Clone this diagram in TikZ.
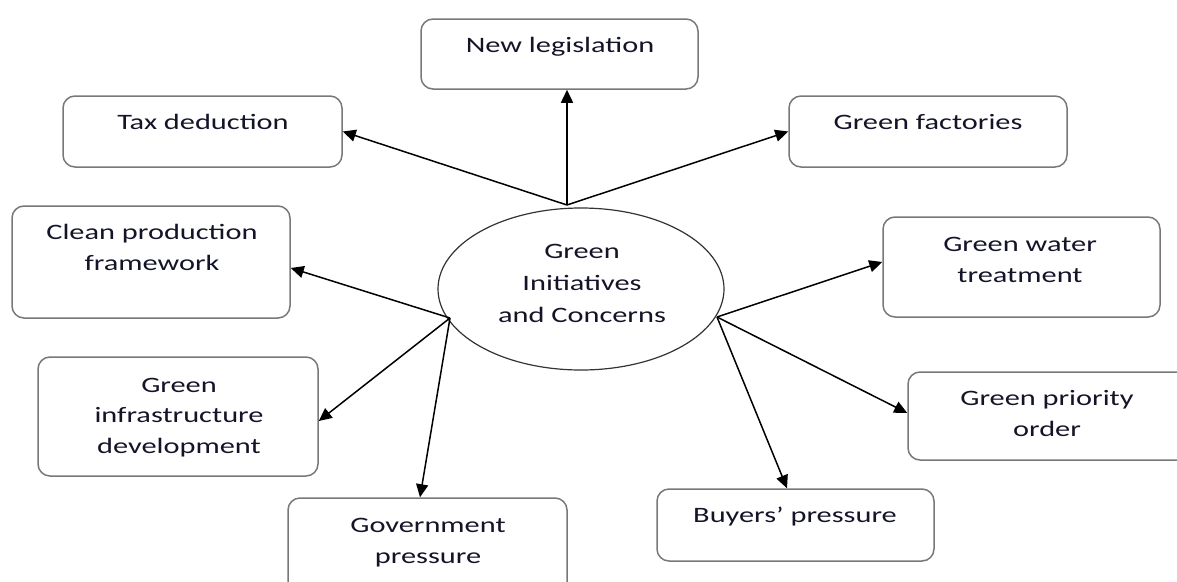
\documentclass[tikz,border=0pt]{standalone}
\usepackage{fontspec}
\setmainfont{Carlito}[FakeStretch=1.38]
\usetikzlibrary{arrows.meta,shapes.geometric}
\definecolor{boxgray}{RGB}{120,120,120}
\definecolor{txtcol}{RGB}{20,20,40}
\begin{document}
\begin{tikzpicture}[x=1pt,y=-1pt,
  box/.style={draw=boxgray, line width=1.5pt, rounded corners=12pt, inner sep=0pt},
  lbl/.style={text=txtcol, align=center, inner sep=0pt, anchor=base,
    font=\fontsize{22}{30.5}\selectfont},
  arr/.style={draw=black, line width=1.5pt, -{Triangle[length=13pt,width=12pt]}},
  hub/.style={draw=black!80, line width=1.2pt, ellipse, inner sep=0pt}]
\useasboundingbox (0,0) rectangle (1177,581);
\clip (0,0) rectangle (1177,581);
% boxes
\node[box, minimum width=277pt, minimum height=70pt] (leg) at (559.5,54) {};
\node[box, minimum width=279pt, minimum height=71pt] (tax) at (202.5,131.5) {};
\node[box, minimum width=278pt, minimum height=71pt] (fac) at (928,131.5) {};
\node[box, minimum width=278pt, minimum height=112pt] (clean) at (151,262) {};
\node[box, minimum width=280pt, minimum height=119pt] (infra) at (178,416.5) {};
\node[box, minimum width=279pt, minimum height=102pt] (gov) at (427.5,549) {};
\node[box, minimum width=277pt, minimum height=100pt] (water) at (1021.5,267) {};
\node[box, minimum width=294pt, minimum height=88pt] (prio) at (1055,416) {};
\node[box, minimum width=277pt, minimum height=72pt] (buy) at (795.5,525) {};
% centre ellipse
\node[hub, minimum width=286pt, minimum height=162pt] (core) at (581,289) {};
% labels (anchor = baseline of the last line)
\node[lbl] (tleg) at (560,52) {New legislation};
\node[lbl] (ttax) at (203,129) {Tax deduction};
\node[lbl] (tfac) at (928,129) {Green factories};
\node[lbl] (tclean) at (152,270) {Clean production\\framework};
\node[lbl] (tinfra) at (179,453) {Green\\infrastructure\\development};
\node[lbl] (tgov) at (428,563) {Government\\pressure};
\node[lbl] (twater) at (1020,282) {Green water\\treatment};
\node[lbl] (tprio) at (1047,436) {Green priority\\order};
\node[lbl] (tbuy) at (795,522) {Buyers’ pressure};
\node[lbl, font=\fontsize{22}{32}\selectfont] (tcore) at (582,322) {Green\\Initiatives\\and Concerns};
% hubs
\coordinate (hT) at (567,205);
\coordinate (hL) at (450,318);
\coordinate (hR) at (717,317);
% connectors
\draw[arr] (hT) -- (hT |- leg.south);
\draw[arr] (hT) -- (tax.east);
\draw[arr] (hT) -- (fac.west);
\draw[arr] (hL) -- ([yshift=-6pt]clean.east);
\draw[arr] (hL) -- ([yshift=-4.5pt]infra.east);
\draw[arr] (hL) -- ([xshift=-7.5pt]gov.north);
\draw[arr] (hR) -- ([yshift=5pt]water.west);
\draw[arr] (hR) -- ([yshift=3pt]prio.west);
\draw[arr] (hR) -- ([xshift=-8.5pt]buy.north);
\end{tikzpicture}
\end{document}
